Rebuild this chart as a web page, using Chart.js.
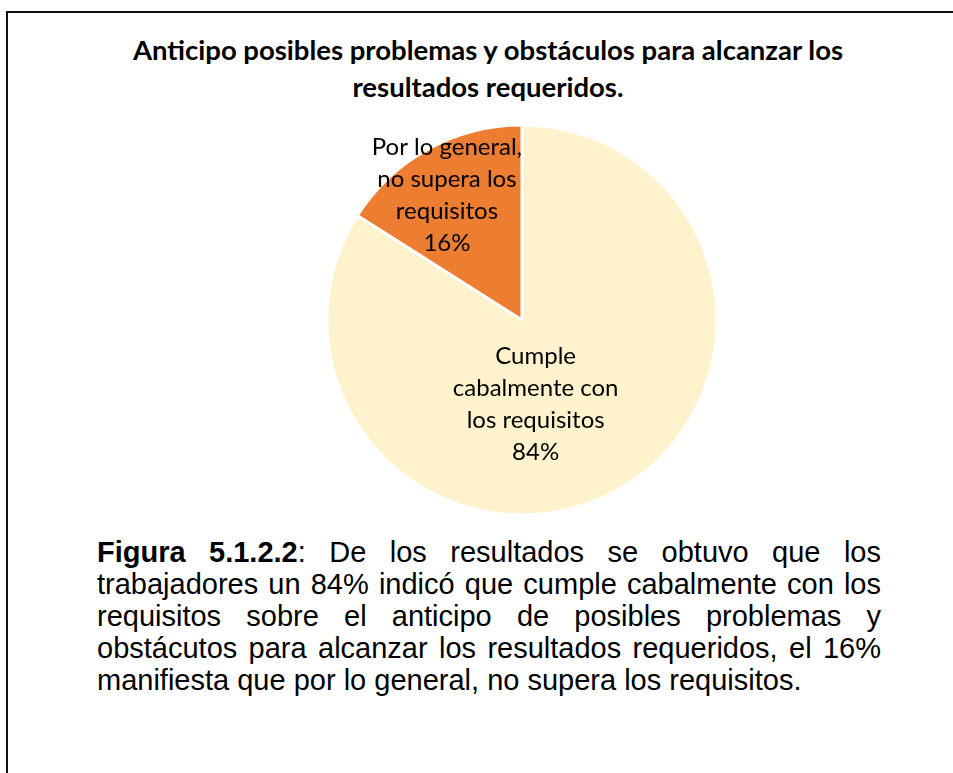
<!DOCTYPE html>
<html>
<head>
<meta charset="utf-8">
<script src="https://cdn.jsdelivr.net/npm/chart.js@4"></script>
<style>
  html, body { margin: 0; padding: 0; background: #fff; }
  body { width: 953px; height: 773px; position: relative; overflow: hidden; }
  #frame { position: absolute; left: 6px; top: 11px; width: 960px; height: 800px;
           border-top: 2px solid #111; border-left: 2px solid #111; }
  #title { position: absolute; left: 0; top: 31px; width: 976px; text-align: center;
           font-family: Lato, "Noto Sans", sans-serif; font-weight: bold; font-size: 27.5px;
           line-height: 37px; color: #000; }
  #chartBox { position: absolute; left: 0; top: 0; width: 953px; height: 530px; }
  #caption { position: absolute; left: 97px; top: 536px; width: 784px;
             font-family: "Liberation Sans", Arial, sans-serif; font-size: 29px;
             line-height: 32px; color: #000; }
  #caption div { text-align: justify; text-align-last: justify; white-space: nowrap; }
  #caption div.last { text-align-last: left; }
</style>
</head>
<body>
<div id="frame"></div>
<div id="title">Anticipo posibles problemas y obstáculos para alcanzar los<br>resultados requeridos.</div>
<div id="chartBox"><canvas id="pie"></canvas></div>
<div id="caption">
  <div><b>Figura 5.1.2.2</b>: De los resultados se obtuvo que los</div>
  <div>trabajadores un 84% indicó que cumple cabalmente con los</div>
  <div>requisitos sobre el anticipo de posibles problemas y</div>
  <div>obstácutos para alcanzar los resultados requeridos, el 16%</div>
  <div class="last">manifiesta que por lo general, no supera los requisitos.</div>
</div>
<script>
const categories = [
  ['Cumple', 'cabalmente con', 'los requisitos'],
  ['Por lo general,', 'no supera los', 'requisitos']
];
const values = [84, 16];
const sliceColors = ['#FFF2CC', '#ED7D31'];

// where each label sits, as a fraction of the radius from the pie centre
const labelAnchors = [[0.07, 0.43], [-0.385, -0.64]];

const pieLabels = {
  id: 'pieLabels',
  afterDatasetsDraw(chart) {
    const ctx = chart.ctx;
    const total = values.reduce((a, b) => a + b, 0);
    const meta = chart.getDatasetMeta(0);
    ctx.save();
    ctx.font = '24px Lato, "Noto Sans", sans-serif';
    ctx.fillStyle = '#000';
    ctx.textAlign = 'center';
    ctx.textBaseline = 'middle';
    meta.data.forEach((arc, i) => {
      const lines = categories[i].concat([Math.round(values[i] / total * 100) + '%']);
      const cx = arc.x + arc.outerRadius * labelAnchors[i][0];
      const cy = arc.y + arc.outerRadius * labelAnchors[i][1];
      const lh = 32;
      const y0 = cy - (lines.length - 1) * lh / 2;
      lines.forEach((t, k) => ctx.fillText(t, cx, y0 + k * lh));
    });
    ctx.restore();
  }
};

new Chart(document.getElementById('pie').getContext('2d'), {
  type: 'pie',
  data: {
    labels: categories,
    datasets: [{
      data: values,
      backgroundColor: sliceColors,
      borderColor: '#ffffff',
      borderWidth: 3
    }]
  },
  options: {
    responsive: true,
    maintainAspectRatio: false,
    animation: false,
    layout: { padding: { left: 325.5, right: 234.5, top: 123.5, bottom: 13.5 } },
    plugins: {
      legend: { display: false },
      tooltip: { enabled: false }
    }
  },
  plugins: [pieLabels]
});
</script>
</body>
</html>
